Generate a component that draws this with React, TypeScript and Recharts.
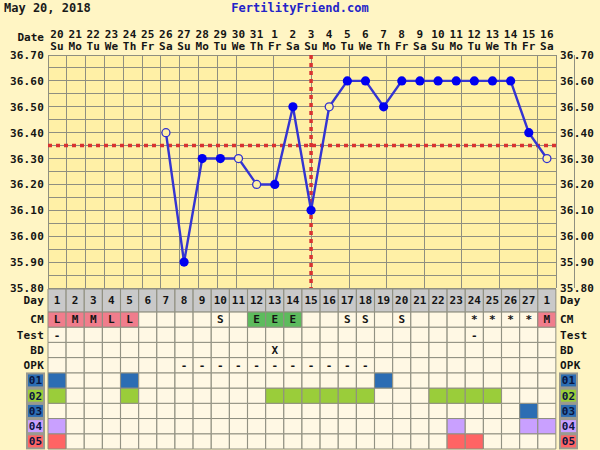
import React from 'react';
import {
  ComposedChart, Line, Bar, Cell, LabelList, XAxis, YAxis, CartesianGrid, ReferenceLine,
} from 'recharts';

// ---------- data ----------
const dateLabels = ['20','21','22','23','24','25','26','27','28','29','30','31','1','2','3','4','5','6','7','8','9','10','11','12','13','14','15','16'];
const weekdayLabels = ['Su','Mo','Tu','We','Th','Fr','Sa','Su','Mo','Tu','We','Th','Fr','Sa','Su','Mo','Tu','We','Th','Fr','Sa','Su','Mo','Tu','We','Th','Fr','Sa'];
const cycleDays = ['1','2','3','4','5','6','7','8','9','10','11','12','13','14','15','16','17','18','19','20','21','22','23','24','25','26','27','1'];
const temps: (number | null)[] = [null,null,null,null,null,null,36.40,35.90,36.30,36.30,36.30,36.20,36.20,36.50,36.10,36.50,36.60,36.60,36.50,36.60,36.60,36.60,36.60,36.60,36.60,36.60,36.40,36.30];
const openTempDays = [7, 11, 12, 16, 28];
const coverline = 36.35;
const ovulationDay = 15;
const tempLabelValues = [35.8, 35.9, 36.0, 36.1, 36.2, 36.3, 36.4, 36.5, 36.6, 36.7];

const cmMarks = ['L','M','M','L','L','','','','','S','','E','E','E','','','S','S','','S','','','','*','*','*','*','M'];
const testMarks = ['-','','','','','','','','','','','','','','','','','','','','','','','-','','','',''];
const bdMarks = ['','','','','','','','','','','','','X','','','','','','','','','','','','','','',''];
const opkMarks = ['','','','','','','','-','-','-','-','-','-','-','-','-','-','-','','','','','','','','','',''];
const code01Days = [1, 5, 19];
const code02Days = [1, 5, 13, 14, 15, 16, 17, 18, 22, 23, 24, 25];
const code03Days = [27];
const code04Days = [1, 23, 27, 28];
const code05Days = [1, 23, 24];

// ---------- styles ----------
const FONT = '"DejaVu Sans Mono", monospace';
const PAGE_BG = '#FFF5C4';
const PLOT_BG = '#FFF0A6';
const CELL_BG = '#FFF8E4';
const DAY_BG = '#C9C9C9';
const GRID = '#8F8F80';
const PINK = '#F07D8C';
const EGREEN = '#5DBB5D';
const BLUE = '#2C6DB3';
const LGREEN = '#9ACD3A';
const LAVENDER = '#C9A0FF';
const SALMON = '#FF6464';
const TXT = '#141414';

const textStyle: React.CSSProperties = { fontFamily: FONT, fontSize: 11, fontWeight: 'bold', fill: TXT, letterSpacing: 0.2 };

const tempData = dateLabels.map((d, i) => ({
  key: i + 1,
  temp: temps[i],
  open: openTempDays.includes(i + 1),
}));

const gridXTicks = Array.from({ length: dateLabels.length + 1 }, (_, i) => i);
const gridYTicks = Array.from({ length: 19 }, (_, i) => Math.round((35.8 + i * 0.05) * 100) / 100);
const isLabelTick = (v: number) => tempLabelValues.some((t) => Math.abs(t - v) < 1e-6);

type RowDef = { id: string; label: string; units: number; textKey?: string; box?: string; color: (i: number) => string };

const cmColor = (m: string) => (m === 'L' || m === 'M' ? PINK : m === 'E' ? EGREEN : CELL_BG);

const rows: RowDef[] = [
  { id: 'day', label: 'Day', units: 1.5, textKey: 'day', color: () => DAY_BG },
  { id: 'cm', label: 'CM', units: 1, textKey: 'cm', color: (i) => cmColor(cmMarks[i]) },
  { id: 'test', label: 'Test', units: 1, textKey: 'test', color: () => CELL_BG },
  { id: 'bd', label: 'BD', units: 1, textKey: 'bd', color: () => CELL_BG },
  { id: 'opk', label: 'OPK', units: 1, textKey: 'opk', color: () => CELL_BG },
  { id: 'c01', label: '01', units: 1, box: BLUE, color: (i) => (code01Days.includes(i + 1) ? BLUE : CELL_BG) },
  { id: 'c02', label: '02', units: 1, box: LGREEN, color: (i) => (code02Days.includes(i + 1) ? LGREEN : CELL_BG) },
  { id: 'c03', label: '03', units: 1, box: BLUE, color: (i) => (code03Days.includes(i + 1) ? BLUE : CELL_BG) },
  { id: 'c04', label: '04', units: 1, box: LAVENDER, color: (i) => (code04Days.includes(i + 1) ? LAVENDER : CELL_BG) },
  { id: 'c05', label: '05', units: 1, box: SALMON, color: (i) => (code05Days.includes(i + 1) ? SALMON : CELL_BG) },
];
const rowsBottomUp = [...rows].reverse();
const TOTAL_UNITS = rows.reduce((s, r) => s + r.units, 0);
const rowCenters: { value: number; row: RowDef }[] = [];
{
  let acc = 0;
  for (const r of rowsBottomUp) {
    rowCenters.push({ value: acc + r.units / 2, row: r });
    acc += r.units;
  }
}

const tableData = cycleDays.map((d, i) => {
  const o: any = { key: i + 1, day: d, cm: cmMarks[i], test: testMarks[i], bd: bdMarks[i], opk: opkMarks[i] };
  rows.forEach((r) => { o['u_' + r.id] = r.units; });
  return o;
});

// ---------- ticks ----------
function DateTick(props: any) {
  const { x, y, payload } = props;
  const i = Number(payload.value) - 1;
  return (
    <g>
      <text x={x} y={y - 17} textAnchor="middle" style={textStyle}>{dateLabels[i]}</text>
      <text x={x} y={y - 5} textAnchor="middle" style={textStyle}>{weekdayLabels[i]}</text>
    </g>
  );
}

function TempTick(props: any) {
  const { x, y, payload, side } = props;
  if (!isLabelTick(payload.value)) return <g />;
  return (
    <text x={x} y={y} dy="0.36em" textAnchor={side === 'left' ? 'end' : 'start'} style={textStyle}>
      {Number(payload.value).toFixed(2)}
    </text>
  );
}

function RowTick(props: any) {
  const { x, y, payload, side } = props;
  const found = rowCenters.find((c) => Math.abs(c.value - payload.value) < 1e-6);
  if (!found) return <g />;
  const r = found.row;
  const left = side === 'left';
  if (r.box) {
    const bx = left ? x - 17 : x;
    return (
      <g>
        <rect x={bx} y={y - 7} width={17} height={14} fill={r.box} stroke="#9A9A90" strokeWidth={2} />
        <text x={bx + 8.5} y={y} dy="0.36em" textAnchor="middle" style={{ ...textStyle, fill: '#0B1640' }}>{r.label}</text>
      </g>
    );
  }
  return (
    <text x={x} y={y} dy="0.36em" textAnchor={left ? 'end' : 'start'} style={textStyle}>{r.label}</text>
  );
}

function renderDot(props: any) {
  const { cx, cy, payload, index } = props;
  if (payload == null || payload.temp == null || cx == null || cy == null) return <g key={'d' + index} />;
  if (payload.open) {
    return <circle key={'d' + index} cx={cx} cy={cy} r={4} fill={PLOT_BG} stroke="#3030D0" strokeWidth={1.3} />;
  }
  return <circle key={'d' + index} cx={cx} cy={cy} r={4.6} fill="#0000F0" />;
}

export default function App() {
  return (
    <div style={{ position: 'absolute', left: 0, top: 0, width: 600, height: 450, overflow: 'hidden', background: PAGE_BG }}>
      <div style={{ position: 'absolute', left: 0, top: 288 }}>
        <ComposedChart width={600} height={162} data={tableData} margin={{ top: 1, right: 0, bottom: 1, left: 0 }}
          barCategoryGap={0} barGap={0}>
          <XAxis dataKey="key" type="category" scale="band" hide />
          <YAxis yAxisId="l" type="number" domain={[0, TOTAL_UNITS]} ticks={rowCenters.map((c) => c.value)} width={48} interval={0}
            tickLine={false} axisLine={false} tickSize={0} tickMargin={4} tick={(p: any) => <RowTick {...p} side="left" />} />
          <YAxis yAxisId="r" orientation="right" type="number" domain={[0, TOTAL_UNITS]} ticks={rowCenters.map((c) => c.value)} width={44} interval={0}
            tickLine={false} axisLine={false} tickSize={0} tickMargin={4} tick={(p: any) => <RowTick {...p} side="right" />} />
          {rowsBottomUp.map((r) => (
            <Bar key={r.id} yAxisId="l" dataKey={'u_' + r.id} stackId="t" stroke={GRID} strokeWidth={1}
              isAnimationActive={false}>
              {tableData.map((_, i) => <Cell key={i} fill={r.color(i)} />)}
              {r.textKey ? (
                <LabelList dataKey={r.textKey} position="center" fill={TXT} fontFamily={FONT} fontSize={11} fontWeight="bold" />
              ) : null}
            </Bar>
          ))}
          <Line yAxisId="r" dataKey="u_day" stroke="none" dot={false} activeDot={false} legendType="none" isAnimationActive={false} />
        </ComposedChart>
      </div>
      <div style={{ position: 'absolute', left: 0, top: 0, pointerEvents: 'none' }}>
        <ComposedChart width={600} height={300} data={tempData} margin={{ top: 21, right: 0, bottom: 12, left: 0 }}>
          <CartesianGrid xAxisId="gx" yAxisId="temp" stroke={GRID} fill={PLOT_BG} fillOpacity={1} shapeRendering="crispEdges" />
          <XAxis xAxisId="main" dataKey="key" type="category" scale="band" orientation="top" height={34}
            interval={0} tickLine={false} axisLine={false} tickSize={0} tickMargin={0} tick={(p: any) => <DateTick {...p} />} />
          <XAxis xAxisId="gx" type="number" domain={[0, dateLabels.length]} ticks={gridXTicks} hide />
          <YAxis yAxisId="temp" type="number" domain={[35.8, 36.7]} ticks={gridYTicks} width={48} interval={0}
            tickLine={false} axisLine={false} tickSize={0} tickMargin={4} tick={(p: any) => <TempTick {...p} side="left" />} />
          <YAxis yAxisId="tempR" orientation="right" type="number" domain={[35.8, 36.7]} ticks={gridYTicks} width={44} interval={0}
            tickLine={false} axisLine={false} tickSize={0} tickMargin={4} tick={(p: any) => <TempTick {...p} side="right" />} />
          <ReferenceLine xAxisId="main" yAxisId="temp" y={coverline} stroke="#D83232" strokeWidth={3.5} strokeDasharray="4 4" />
          <ReferenceLine xAxisId="main" yAxisId="temp" x={ovulationDay} stroke="#D83232" strokeWidth={3.5} strokeDasharray="4 4" />
          <Line xAxisId="main" yAxisId="tempR" dataKey="temp" stroke="none" dot={false} activeDot={false}
            legendType="none" isAnimationActive={false} />
          <Line xAxisId="main" yAxisId="temp" dataKey="temp" stroke="#3434D2" strokeWidth={2.4} dot={renderDot}
            activeDot={false} connectNulls isAnimationActive={false} />
        </ComposedChart>
      </div>
      <div style={{ position: 'absolute', left: 4, top: 2, font: `bold 12px ${FONT}`, lineHeight: '12px', color: '#1A1A1A' }}>May 20, 2018</div>
      <div style={{ position: 'absolute', left: 0, width: 600, top: 2, textAlign: 'center', font: `bold 12px ${FONT}`, lineHeight: '12px', color: '#2323C8' }}>FertilityFriend.com</div>
      <div style={{ position: 'absolute', left: 0, width: 44, top: 32, textAlign: 'right', font: `bold 11px ${FONT}`, lineHeight: '12px', color: TXT }}>Date</div>
    </div>
  );
}
